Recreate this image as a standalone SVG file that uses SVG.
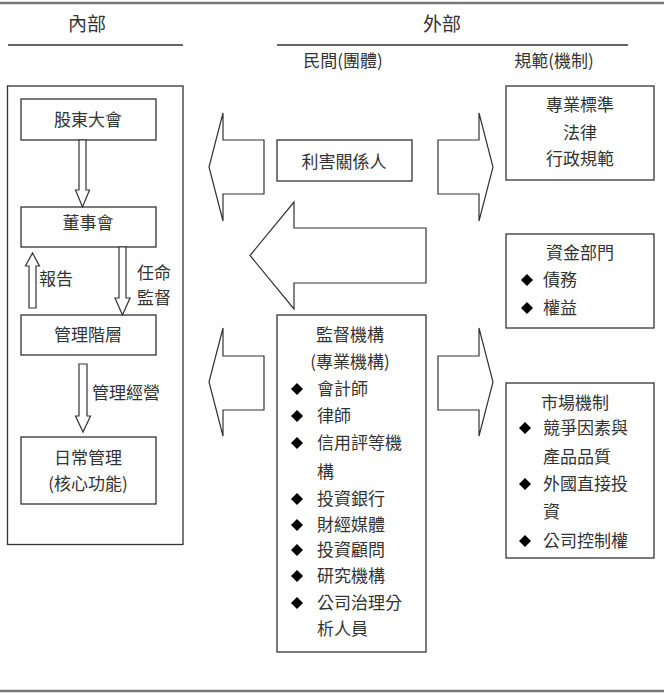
<svg xmlns="http://www.w3.org/2000/svg" width="664" height="700" viewBox="0 0 664 700">
<defs>
<style>
.t{font-family:"Noto Sans CJK TC","Noto Sans CJK SC",sans-serif;font-size:17px;fill:#333;}
.h{font-family:"Noto Sans CJK TC","Noto Sans CJK SC",sans-serif;font-size:19px;fill:#333;}
.c{text-anchor:middle;}
.box{fill:#fff;stroke:#333;stroke-width:1.3;}
.arr{fill:#fff;stroke:#333;stroke-width:1.2;stroke-linejoin:miter;}
.rule{stroke:#777;stroke-width:2.5;}
.hl{stroke:#333;stroke-width:1.5;}
.dm{fill:#000;}
</style>
<path id="dia" d="M0,-6 L6,0 L0,6 L-6,0 Z"/>
</defs>
<rect width="664" height="700" fill="#fff"/>

<g id="frame">
<line class="rule" x1="0" y1="3" x2="664" y2="3"/>
<line class="rule" x1="0" y1="691" x2="664" y2="691"/>
</g>

<g id="headers">
<text class="h c" x="87" y="31">內部</text>
<line class="hl" x1="8" y1="45" x2="183" y2="45"/>
<text class="h c" x="442" y="31">外部</text>
<line class="hl" x1="277" y1="45" x2="628" y2="45"/>
<text class="t c" x="343" y="67">民間(團體)</text>
<text class="t c" x="554" y="67">規範(機制)</text>
</g>

<g id="internal">
<rect class="box" x="7.5" y="86" width="175.5" height="458.5"/>
</g>
<g id="shareholders">
<rect class="box" x="21" y="99" width="135" height="41"/>
<text class="t c" x="88" y="126">股東大會</text>
</g>
<g id="board">
<rect class="box" x="21" y="207" width="135" height="40"/>
<text class="t c" x="88" y="229">董事會</text>
</g>
<g id="management">
<rect class="box" x="21" y="315" width="135" height="40"/>
<text class="t c" x="88" y="341">管理階層</text>
</g>
<g id="daily">
<rect class="box" x="21" y="437" width="135" height="67"/>
<text class="t c" x="88" y="464">日常管理</text>
<text class="t c" x="88" y="490">(核心功能)</text>
</g>

<g id="stakeholders">
<rect class="box" x="277" y="140" width="135" height="41"/>
<text class="t c" x="344" y="168">利害關係人</text>
</g>
<g id="monitors">
<rect class="box" x="277" y="315" width="149" height="337"/>
<text class="t c" x="350" y="341">監督機構</text>
<text class="t c" x="350" y="368">(專業機構)</text>
<use href="#dia" class="dm" x="297" y="389"/><text class="t" x="317" y="395">會計師</text>
<use href="#dia" class="dm" x="297" y="416"/><text class="t" x="317" y="422">律師</text>
<use href="#dia" class="dm" x="297" y="443"/><text class="t" x="317" y="449">信用評等機</text>
<text class="t" x="317" y="478">構</text>
<use href="#dia" class="dm" x="297" y="499"/><text class="t" x="317" y="505">投資銀行</text>
<use href="#dia" class="dm" x="297" y="525"/><text class="t" x="317" y="531">財經媒體</text>
<use href="#dia" class="dm" x="297" y="550"/><text class="t" x="317" y="556">投資顧問</text>
<use href="#dia" class="dm" x="297" y="576"/><text class="t" x="317" y="582">研究機構</text>
<use href="#dia" class="dm" x="297" y="603"/><text class="t" x="317" y="609">公司治理分</text>
<text class="t" x="317" y="635">析人員</text>
</g>

<g id="regulation">
<rect class="box" x="506" y="86" width="148" height="94"/>
<text class="t c" x="580" y="111">專業標準</text>
<text class="t c" x="580" y="139">法律</text>
<text class="t c" x="580" y="165">行政規範</text>
</g>
<g id="finance">
<rect class="box" x="506" y="234" width="148" height="94"/>
<text class="t c" x="580" y="259">資金部門</text>
<use href="#dia" class="dm" x="527" y="280"/><text class="t" x="543" y="286">債務</text>
<use href="#dia" class="dm" x="527" y="308"/><text class="t" x="543" y="314">權益</text>
</g>
<g id="markets">
<rect class="box" x="506" y="383" width="148" height="175"/>
<text class="t" x="541" y="409">市場機制</text>
<use href="#dia" class="dm" x="525" y="428"/><text class="t" x="543" y="434">競爭因素與</text>
<text class="t" x="543" y="463">產品品質</text>
<use href="#dia" class="dm" x="525" y="484"/><text class="t" x="543" y="490">外國直接投</text>
<text class="t" x="543" y="518">資</text>
<use href="#dia" class="dm" x="525" y="541"/><text class="t" x="543" y="547">公司控制權</text>
</g>

<g id="connectors">
<polygon class="arr" points="79,140 86,140 86,190 89.5,190 82.5,207 75.5,190 79,190"/>
<polygon class="arr" points="29,308 36,308 36,266 39.5,266 32.5,253 25.5,266 29,266"/>
<polygon class="arr" points="119,247 126,247 126,298 130,298 122.5,315 115,298 119,298"/>
<polygon class="arr" points="79,364 87,364 87,416 90.5,416 83,432 75.5,416 79,416"/>
<text class="t" x="39" y="285">報告</text>
<text class="t" x="137" y="279">任命</text>
<text class="t" x="137" y="304">監督</text>
<text class="t" x="92" y="399">管理經營</text>
<polygon class="arr" points="264,140 223,140 223,113 209,167 223,221 223,194 264,194"/>
<polygon class="arr" points="438,140 479,140 479,113 493,167 479,221 479,194 438,194"/>
<polygon class="arr" points="426,228 294,228 294,202 250,255.5 294,309 294,283 426,283"/>
<polygon class="arr" points="264,356 223,356 223,328 209,382 223,436 223,410 264,410"/>
<polygon class="arr" points="438,356 479,356 479,328 493,382 479,436 479,410 438,410"/>
</g>
</svg>
